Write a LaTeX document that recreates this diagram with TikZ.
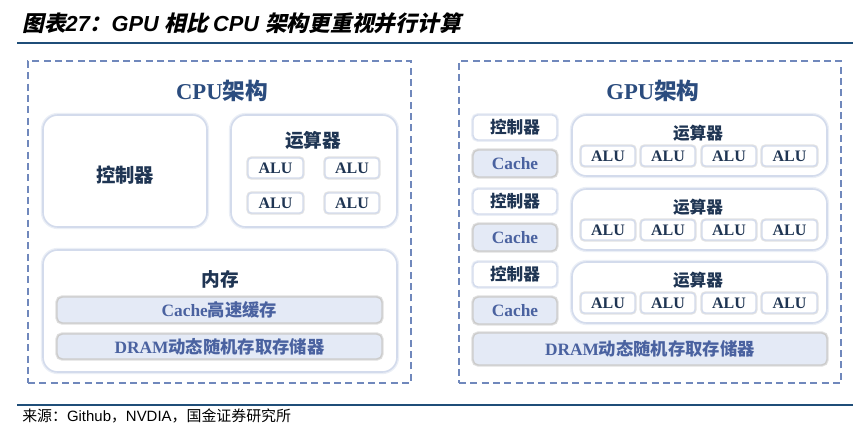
\documentclass[tikz,border=0pt]{standalone}
\usepackage{fontspec}
\usetikzlibrary{shadows}
\newfontfamily\cjk{Noto Sans CJK SC}
\newfontfamily\cjkit[FakeSlant=0.22]{Noto Sans CJK SC}
\newfontfamily\tms{Liberation Serif}
\newfontfamily\arl{Liberation Sans}
\definecolor{rulec}{HTML}{1F4E79}
\definecolor{dashc}{HTML}{7088BC}
\definecolor{headc}{HTML}{2B4C7E}
\definecolor{darktext}{HTML}{1F3553}
\definecolor{cachetext}{HTML}{4A62A0}
\definecolor{barfill}{HTML}{E4EAF6}
\definecolor{boxborder}{HTML}{D3DBEC}
\newcommand\mybox[7]{\node[#2, minimum width={((#5)-(#3))*0.75pt}, minimum height={((#6)-(#4))*0.75pt}] (#1) at ({((#3)+(#5))/2},{((#4)+(#6))/2}) {#7};}
\newcommand\fs[1]{\fontsize{#1}{#1}\selectfont}
\tikzset{
  dashbox/.style={draw=dashc, line width=1.1pt, dash pattern=on 5.3pt off 3.2pt, inner sep=0pt, outer sep=0pt},
  softbox/.style={draw=boxborder, line width=1.2pt, fill=white, rounded corners=11pt, inner sep=0pt, outer sep=0pt,
     preaction={draw=boxborder!45, line width=3.2pt}},
  smallbox/.style={draw=boxborder, line width=1.1pt, fill=white, rounded corners=3.5pt, inner sep=0pt, outer sep=0pt,
     preaction={draw=boxborder!45, line width=2.8pt}},
  alubox/.style={draw=boxborder, line width=1pt, fill=white, rounded corners=2.5pt, inner sep=0pt, outer sep=0pt,
     preaction={draw=gray!22, line width=2.4pt}},
  barbox/.style={draw=gray!40, line width=1pt, fill=barfill, rounded corners=4pt, inner sep=0pt, outer sep=0pt,
     preaction={draw=gray!25, line width=2.6pt}},
  head/.style={text=headc, inner sep=0pt},
  lbl/.style={text=darktext, inner sep=0pt},
  alut/.style={text=darktext, font=\tms\bfseries\fs{12pt}},
  cachet/.style={text=cachetext},
}
\begin{document}
\begin{tikzpicture}[x=0.75pt,y=-0.75pt]
\useasboundingbox (0,0) rectangle (865,431);
% title
\node[anchor=west, inner sep=0pt, text=black] (title) at (22,23)
  {\bfseries\fs{16.3pt}{\cjkit 图表}{\arl\itshape 27}{\cjkit ：}{\arl\itshape GPU }{\cjkit 相比 }{\arl\itshape CPU }{\cjkit 架构更重视并行计算}};
\coordinate (tr1) at (17,43); \coordinate (tr2) at (853,43);
\draw[rulec, line width=1.7pt] (tr1) -- (tr2);
\coordinate (br1) at (17,405); \coordinate (br2) at (853,405);
\draw[rulec, line width=1.7pt] (br1) -- (br2);
\node[anchor=west, inner sep=0pt, text=black] (src) at (22,416)
  {\fs{11.2pt}{\cjk 来源：}{\arl Github}{\cjk ，}{\arl NVDIA}{\cjk ，国金证券研究所}};

% CPU
\mybox{cpu}{dashbox}{28}{61}{411}{383}{}
\node[head] (cputitle) at (222,91) {\bfseries\fs{17pt}{\tms CPU}{\cjk 架构}};
\mybox{cctrl}{softbox}{43}{115}{207}{227}{}
\node[lbl] (cctrlt) at (125,175) {\cjk\bfseries\fs{14.5pt}控制器};
\mybox{calu}{softbox}{231}{115}{397}{227}{}
\node[lbl] (calut) at (313,140) {\cjk\bfseries\fs{14pt}运算器};
\mybox{ca1}{alubox}{248}{158}{303}{178}{}
\mybox{ca2}{alubox}{325}{158}{379}{178}{}
\mybox{ca3}{alubox}{248}{193}{303}{213}{}
\mybox{ca4}{alubox}{325}{193}{379}{213}{}
\foreach \n in {ca1,ca2,ca3,ca4} {\node[alut] at (\n) {ALU};}
\mybox{cmem}{softbox}{43}{250}{397}{372}{}
\node[lbl] (cmemt) at (220,279) {\cjk\bfseries\fs{14pt}内存};
\mybox{ccache}{barbox}{57}{297}{382}{323}{}
\node[cachet] at (ccache) {\bfseries\fs{13pt}{\tms Cache}{\cjk 高速缓存}};
\mybox{cdram}{barbox}{57}{334}{382}{359}{}
\node[cachet] at (cdram) {\bfseries\fs{13pt}{\tms DRAM}{\cjk 动态随机存取存储器}};

% GPU
\mybox{gpu}{dashbox}{459}{61}{841}{383}{}
\node[head] (gputitle) at (653,91) {\bfseries\fs{17pt}{\tms GPU}{\cjk 架构}};
\foreach \r/\dy in {1/0,2/74,3/147} {
  \mybox{gctrl\r}{smallbox}{473}{115+\dy}{557}{140+\dy}{}
  \node[lbl] at (gctrl\r) {\cjk\bfseries\fs{12.5pt}控制器};
  \mybox{gcache\r}{barbox}{473}{150+\dy}{557}{177+\dy}{}
  \node[cachet] at (gcache\r) {\tms\bfseries\fs{13pt}Cache};
  \mybox{galu\r}{softbox}{572}{115+\dy}{827}{176+\dy}{}
  \node[lbl] at (698,133+\dy) {\cjk\bfseries\fs{12.5pt}运算器};
  \mybox{ga\r a}{alubox}{581}{146+\dy}{635}{166+\dy}{}
  \mybox{ga\r b}{alubox}{641}{146+\dy}{695}{166+\dy}{}
  \mybox{ga\r c}{alubox}{702}{146+\dy}{756}{166+\dy}{}
  \mybox{ga\r d}{alubox}{762}{146+\dy}{817}{166+\dy}{}
  \foreach \k in {a,b,c,d} {\node[alut] at (ga\r\k) {ALU};}
}
\mybox{gdram}{barbox}{473}{333}{827}{365}{}
\node[cachet] at (gdram) {\bfseries\fs{13pt}{\tms DRAM}{\cjk 动态随机存取存储器}};
\end{tikzpicture}
\end{document}
